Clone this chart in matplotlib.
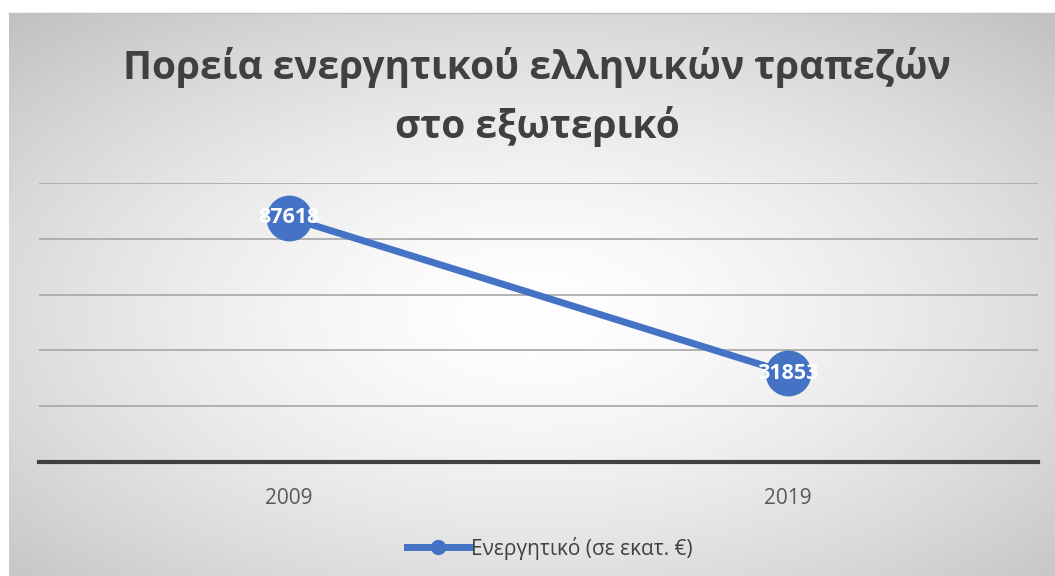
import numpy as np
import matplotlib.pyplot as plt
from matplotlib.lines import Line2D

years = ["2009", "2019"]
assets = [87618, 31853]
series_name = "Ενεργητικό (σε εκατ. €)"
title = "Πορεία ενεργητικού ελληνικών τραπεζών\nστο εξωτερικό"

plt.rcParams['font.family'] = ['Open Sans', 'DejaVu Sans']

W, H = 1055, 576
fig = plt.figure(figsize=(W / 100, H / 100), dpi=100)

# radial gradient background for the chart area
bg = fig.add_axes([9 / W, 0, 1 - 9 / W, 1 - 13 / H])
yy, xx = np.mgrid[0:300, 0:550]
cx, cy = 275, 160
r = np.sqrt(((xx - cx) / 550) ** 2 + ((yy - cy) / 300) ** 2) / 0.72
shade = 1 - 0.24 * np.clip(r, 0, 1) ** 1.5
bg.imshow(np.dstack([shade] * 3), aspect='auto', extent=[0, 1, 0, 1])
bg.axis('off')
fig.add_artist(Line2D([9 / W, 1], [1 - 13 / H] * 2, color='#c0c0c0', lw=1))

ax = fig.add_axes([39 / W, (H - 462) / H, 999 / W, (462 - 183) / H])
ax.patch.set_alpha(0)
x = np.arange(len(years))
ax.plot(x, assets, color='#4472C4', lw=5, marker='o', markersize=32,
        solid_capstyle='round', label=series_name, zorder=3)
for xi, v in zip(x, assets):
    ax.text(xi, v, str(v), color='white', fontsize=15.5, fontweight='bold',
            ha='center', va='center', zorder=4)

ax.set_xlim(-0.5, 1.5)
ax.set_ylim(0, 100000)
ax.set_yticks(np.arange(0, 100001, 20000))
ax.yaxis.grid(True, color='#a6a6a6', lw=1.2)
ax.set_yticklabels([])
ax.tick_params(axis='y', length=0)
ax.set_xticks(x)
ax.set_xticklabels(years, fontsize=15, color='#595959')
ax.tick_params(axis='x', length=0, pad=19)
for s in ['top', 'right', 'left']:
    ax.spines[s].set_visible(False)
ax.spines['bottom'].set_color('#404040')
ax.spines['bottom'].set_linewidth(3)

fig.text(537 / W, 1 - 97 / H, title, ha='center', va='center', fontsize=28,
         fontweight='bold', color='#404040', linespacing=1.58)

handle = Line2D([], [], color='#4472C4', lw=5, marker='o', markersize=10)
fig.legend([handle], [series_name], loc='center', bbox_to_anchor=(550 / W, 1 - 548 / H),
           frameon=False, fontsize=15, labelcolor='#404040', handlelength=3,
           handletextpad=0.1)

fig.savefig("out.png", dpi=100)
